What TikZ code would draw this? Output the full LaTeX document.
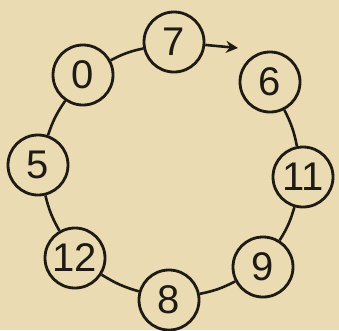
\documentclass[tikz,border=0pt]{standalone}
\usepackage{fontspec}
\setmainfont{Liberation Sans}
\usetikzlibrary{arrows.meta}
\definecolor{paper}{HTML}{EBDBB2}
\definecolor{ink}{HTML}{1E1A14}
\begin{document}
\begin{tikzpicture}[x=1pt,y=-1pt,
  num/.style={circle,draw=ink,line width=2.8pt,minimum size=60pt,inner sep=0pt,
    font=\fontsize{40}{40}\selectfont,text=ink},
  link/.style={draw=ink,line width=2.6pt}]
\fill[paper] (0,0) rectangle (339,330);
\useasboundingbox (0,0) rectangle (339,330);
\node[num] (n7) at (174,42) {7};
\node[num] (n0) at (83,75) {0};
\node[num] (n6) at (270,82) {6};
\node[num] (n5) at (38,165) {5};
\node[num] (n11) at (303,177) {11};
\node[num] (n12) at (75,258) {12};
\node[num] (n9) at (263,267) {9};
\node[num] (n8) at (169,300) {8};
\coordinate (tip) at (238,48);
\draw[link] (n7) to[bend right=8] (n0);
\draw[link] (n0) to[bend right=8] (n5);
\draw[link] (n5) to[bend right=8] (n12);
\draw[link] (n12) to[bend right=8] (n8);
\draw[link] (n8) to[bend right=8] (n9);
\draw[link] (n9) to[bend right=8] (n11);
\draw[link] (n11) to[bend right=8] (n6);
\draw[link,-{Stealth[length=12pt,width=12pt,inset=4pt]}] (n7) -- (tip);
\end{tikzpicture}
\end{document}
